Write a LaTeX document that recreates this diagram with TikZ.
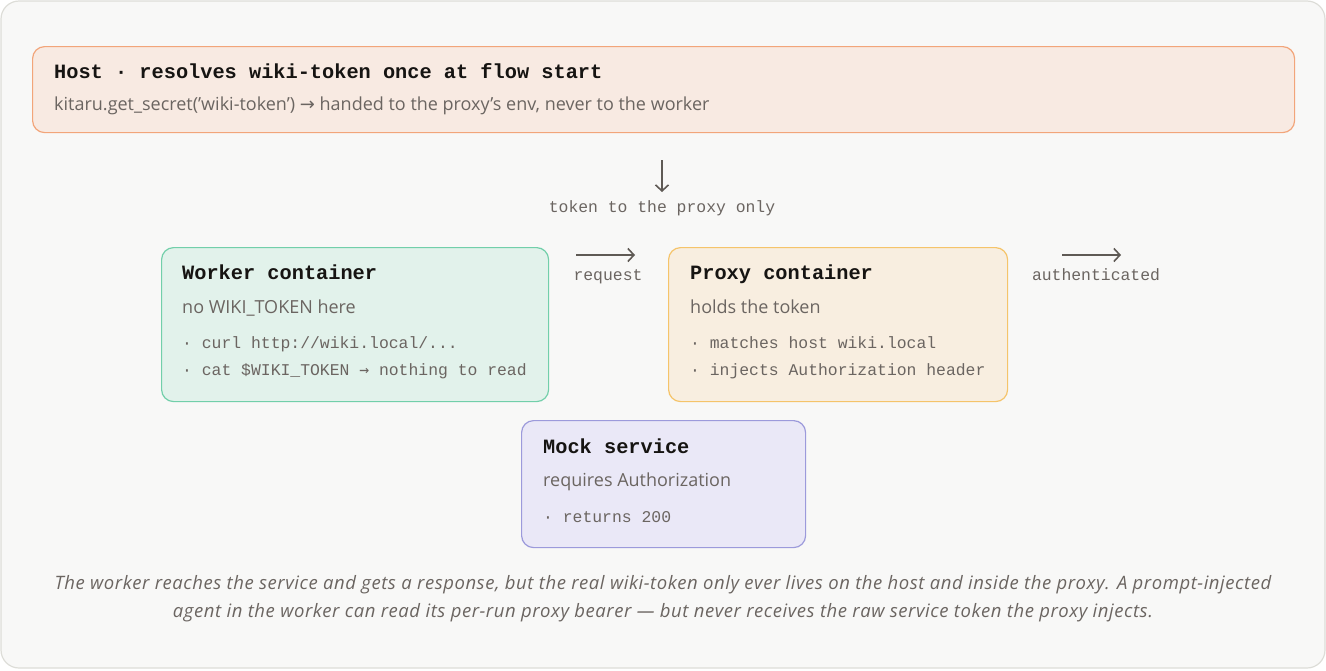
\documentclass[tikz,border=0pt]{standalone}
\usepackage{fontspec}
\setmainfont{Open Sans}
\setsansfont{Open Sans}
\setmonofont{Liberation Mono}
\newfontfamily\capfont{Open Sans}[LetterSpace=3]
\newfontfamily\symsans{DejaVu Sans}
\newfontfamily\symmono{DejaVu Sans Mono}
\usetikzlibrary{arrows.meta}
\definecolor{bgc}{HTML}{F8F8F7}
\definecolor{framec}{HTML}{DDDDD8}
\definecolor{hostfill}{HTML}{F8EAE2}
\definecolor{hostdraw}{HTML}{F2A57A}
\definecolor{workfill}{HTML}{E2F2EB}
\definecolor{workdraw}{HTML}{72CFAA}
\definecolor{proxfill}{HTML}{F8EEE0}
\definecolor{proxdraw}{HTML}{F5C46A}
\definecolor{mockfill}{HTML}{EAE8F7}
\definecolor{mockdraw}{HTML}{9C9ADB}
\definecolor{darkc}{HTML}{161412}
\definecolor{bodyc}{HTML}{6B6561}
\definecolor{arrowc}{HTML}{5F5A55}
\tikzset{
  panel/.style={draw, rounded corners=12pt, line width=1.2pt, inner sep=0},
  ttl/.style={anchor=base west, inner sep=0, text=darkc, font=\ttfamily\bfseries\fontsize{20.3}{24}\selectfont},
  sub/.style={anchor=base west, inner sep=0, text=bodyc, font=\sffamily\fontsize{18}{20}\selectfont},
  bul/.style={anchor=base west, inner sep=0, text=bodyc, font=\ttfamily\fontsize{16.4}{20}\selectfont},
  lbl/.style={anchor=base, inner sep=0, text=bodyc, font=\ttfamily\fontsize{16.4}{20}\selectfont},
  captxt/.style={anchor=base, inner sep=0, text=bodyc, font=\capfont\itshape\fontsize{18.5}{20}\selectfont},
  flow/.style={draw=arrowc, line width=1.6pt, -{Straight Barb[length=6pt,width=13pt,line width=1.6pt]}},
}
\begin{document}
\begin{tikzpicture}[x=1pt,y=-1pt]
\useasboundingbox (0,0) rectangle (1326,670);
\draw[fill=bgc, draw=framec, line width=1.2pt, rounded corners=18pt] (1,1) rectangle (1325,668);
% host
\node[panel, fill=hostfill, draw=hostdraw, minimum width=1262pt, minimum height=86pt, anchor=north west] (host) at (32,46) {};
\node[ttl] (hostt) at (54,78) {Host · resolves wiki-token once at flow start};
\node[sub] (hosts) at (54,110) {kitaru.get\_secret('wiki-token') {\symsans→} handed to the proxy's env, never to the worker};
% down arrow
\coordinate (dtop) at (662,160);
\coordinate (dbot) at (662,192);
\draw[flow] (dtop) -- (dbot);
\node[lbl] (tokl) at (662,212) {token to the proxy only};
% worker
\node[panel, fill=workfill, draw=workdraw, minimum width=387pt, minimum height=154pt, anchor=north west] (worker) at (161,247) {};
\node[ttl] (workt) at (182,279) {Worker container};
\node[sub] (works) at (182,313) {no WIKI\_TOKEN here};
\node[bul] (workb1) at (182,348) {· curl http://wiki.local/...};
\node[bul] (workb2) at (182,375) {· cat \$WIKI\_TOKEN {\symmono→} nothing to read};
% request arrow
\coordinate (rq1) at (576,255);
\coordinate (rq2) at (635,255);
\draw[flow] (rq1) -- (rq2);
\node[lbl] (rql) at (608,280) {request};
% proxy
\node[panel, fill=proxfill, draw=proxdraw, minimum width=339pt, minimum height=154pt, anchor=north west] (proxy) at (668,247) {};
\node[ttl] (proxt) at (690,279) {Proxy container};
\node[sub] (proxs) at (690,313) {holds the token};
\node[bul] (proxb1) at (690,348) {· matches host wiki.local};
\node[bul] (proxb2) at (690,375) {· injects Authorization header};
% authenticated arrow
\coordinate (au1) at (1062,255);
\coordinate (au2) at (1121,255);
\draw[flow] (au1) -- (au2);
\node[lbl] (aul) at (1096,280) {authenticated};
% mock
\node[panel, fill=mockfill, draw=mockdraw, minimum width=284pt, minimum height=127pt, anchor=north west] (mock) at (521,420) {};
\node[ttl] (mockt) at (543,453) {Mock service};
\node[sub] (mocks) at (543,486) {requires Authorization};
\node[bul] (mockb) at (543,522) {· returns 200};
% caption
\node[captxt] (cap1) at (663,589) {The worker reaches the service and gets a response, but the real wiki-token only ever lives on the host and inside the proxy. A prompt-injected};
\node[captxt] (cap2) at (663,617) {agent in the worker can read its per-run proxy bearer — but never receives the raw service token the proxy injects.};
\end{tikzpicture}
\end{document}
